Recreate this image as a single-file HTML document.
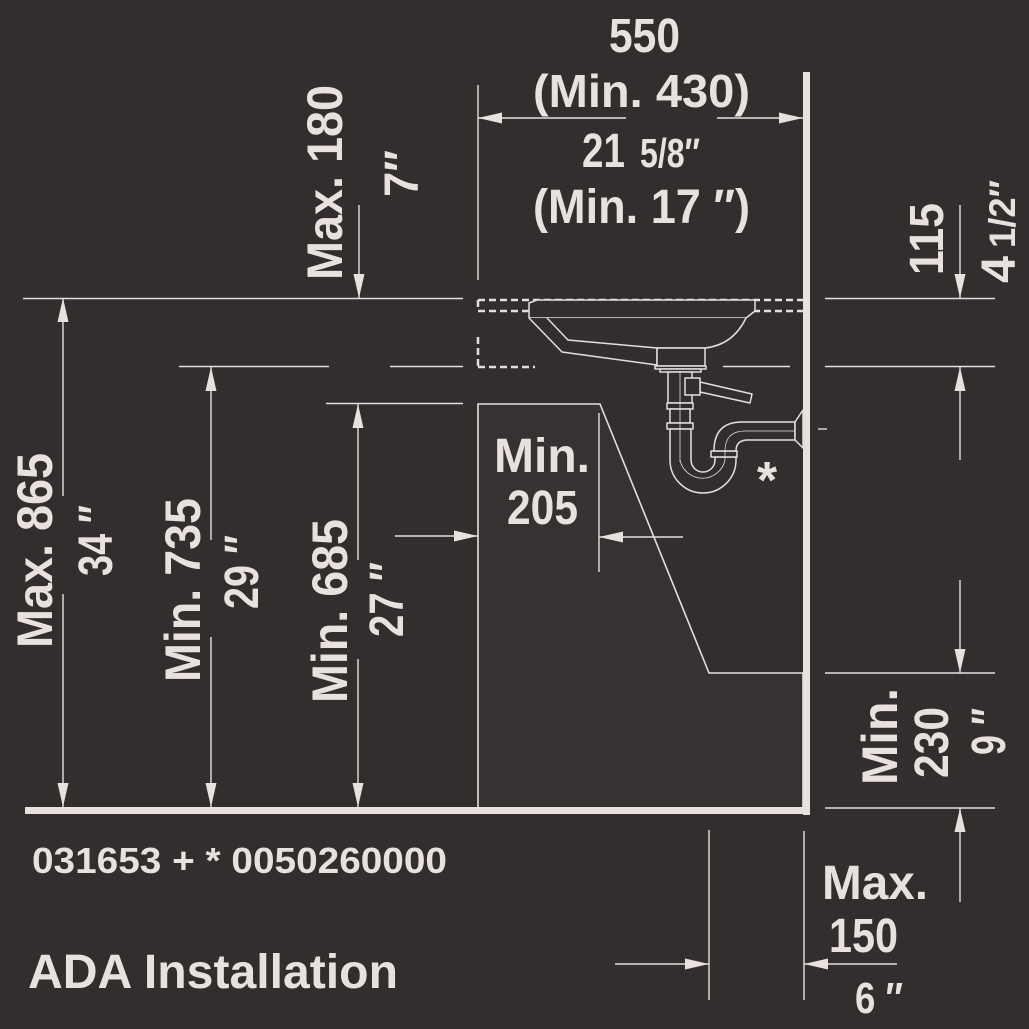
<!DOCTYPE html>
<html><head><meta charset="utf-8"><style>
html,body{margin:0;padding:0;background:#312e2d;}
svg{display:block;}
text{font-family:"Liberation Sans Narrow","Liberation Sans",sans-serif;font-weight:bold;fill:#e8e1e0;}
</style></head><body>
<svg width="1029" height="1029" viewBox="0 0 1029 1029" xmlns="http://www.w3.org/2000/svg">
<rect width="1029" height="1029" fill="#312e2d"/>
<!-- cabinet -->
<polygon points="478,404 600,404 709,673 803,673 803,808 478,808" fill="#373232" stroke="#e6dede" stroke-width="1.6"/>
<line x1="599" y1="413" x2="599" y2="572" stroke="#e6dede" stroke-width="1.4"/>
<g stroke="#e6dede" stroke-width="1.4" fill="none">
<line x1="23" y1="298.5" x2="463" y2="298.5"/>
<line x1="825" y1="298.5" x2="995" y2="298.5"/>
<line x1="179" y1="366.5" x2="329" y2="366.5"/>
<line x1="390" y1="366.5" x2="463" y2="366.5"/>
<line x1="723" y1="366.5" x2="790" y2="366.5"/>
<line x1="825" y1="366.5" x2="995" y2="366.5"/>
<line x1="326" y1="403.5" x2="463" y2="403.5"/>
<line x1="825" y1="673" x2="995" y2="673"/>
<line x1="825" y1="808" x2="995" y2="808"/>
<line x1="478" y1="118" x2="626" y2="118"/>
<line x1="717" y1="118" x2="803" y2="118"/>
<line x1="395" y1="536" x2="478" y2="536"/>
<line x1="599" y1="537" x2="683" y2="537"/>
<line x1="615" y1="964" x2="709" y2="964"/>
<line x1="804" y1="964" x2="897" y2="964"/>
<line x1="818" y1="429" x2="827" y2="429"/>
<line x1="478" y1="85" x2="478" y2="280"/>
<line x1="359" y1="205" x2="359" y2="298"/>
<line x1="63" y1="298" x2="63" y2="496"/>
<line x1="63" y1="594" x2="63" y2="808"/>
<line x1="211" y1="367" x2="211" y2="540"/>
<line x1="211" y1="637" x2="211" y2="808"/>
<line x1="358" y1="404" x2="358" y2="560"/>
<line x1="358" y1="659" x2="358" y2="808"/>
<line x1="960" y1="205" x2="960" y2="298"/>
<line x1="960" y1="367" x2="960" y2="460"/>
<line x1="960" y1="580" x2="960" y2="673"/>
<line x1="960" y1="808" x2="960" y2="902"/>
<line x1="709" y1="830" x2="709" y2="1000"/>
<line x1="804" y1="831" x2="804" y2="1000"/>
</g>
<rect x="803" y="72" width="7" height="743" fill="#e8e1e0"/>
<rect x="25" y="807" width="785" height="7" fill="#e8e1e0"/>
<g fill="#e8e1e0">
<polygon points="63,298 57.5,322 68.5,322"/>
<polygon points="211,367 205.5,391 216.5,391"/>
<polygon points="358,404 352.5,428 363.5,428"/>
<polygon points="960,367 954.5,391 965.5,391"/>
<polygon points="960,808 954.5,832 965.5,832"/>
<polygon points="63,807 57.5,783 68.5,783"/>
<polygon points="211,807 205.5,783 216.5,783"/>
<polygon points="358,807 352.5,783 363.5,783"/>
<polygon points="359,298 353.5,274 364.5,274"/>
<polygon points="960,298 954.5,274 965.5,274"/>
<polygon points="960,673 954.5,649 965.5,649"/>
<polygon points="803,118 779,112.5 779,123.5"/>
<polygon points="478,536 454,530.5 454,541.5"/>
<polygon points="709,964 685,958.5 685,969.5"/>
<polygon points="478,118 502,112.5 502,123.5"/>
<polygon points="599,537 623,531.5 623,542.5"/>
<polygon points="804,964 828,958.5 828,969.5"/>
</g>
<g stroke="#e6dede" stroke-width="2.5" fill="none" stroke-dasharray="7 4">
<line x1="478" y1="300" x2="803" y2="300"/>
<line x1="478" y1="311" x2="803" y2="311"/>
<line x1="478" y1="300" x2="478" y2="311"/>
<line x1="478" y1="337" x2="478" y2="367"/>
<line x1="478" y1="367" x2="535" y2="367"/>
</g>
<g stroke="#e6dede" stroke-width="1.5" fill="#312e2d" stroke-linejoin="round">
<path d="M537,300 L755,300 L755,311 L746,318 L529,318 L529,303 Z"/>
<path d="M529,318 L562,352 L657,365 L657,348 L705,348 Q733,345 746,318" fill="#312e2d"/>
<path d="M547,318 L568,340 L657,348" fill="none"/>
<rect x="657" y="348" width="48" height="18"/>
<rect x="655" y="366" width="51" height="3"/>
<rect x="660" y="369" width="41" height="3"/>
<rect x="668" y="372" width="24" height="31"/>
<path d="M700,382 L752,394 L750,403 L700,392 Z"/>
<rect x="685" y="378" width="15" height="17"/>
<rect x="667" y="403" width="26" height="6"/>
<rect x="670" y="409" width="20" height="14"/>
<rect x="667" y="423" width="26" height="6"/>
<path d="M670,429 L670,460 A33,33 0 0 0 736,460 L736,457 L715,457 L715,460 A12,12 0 0 1 691,460 L691,429 Z"/>
<rect x="711" y="451" width="26" height="6"/>
<path d="M714,451 Q714,422 742,422 L795,422 L795,440 L748,440 Q736,440 736,451 Z"/>
<path d="M795,422 L803,410 L803,448 L795,440 Z"/>
</g>
<g stroke="#e6dede" stroke-width="0.8" fill="none">
<line x1="680" y1="372" x2="680" y2="462"/>
<path d="M680,460 A23,23 0 0 0 725,460 L725,451 Q725,431 745,431 L795,431"/>
</g>
<text x="609" y="52" font-size="48" textLength="71" lengthAdjust="spacingAndGlyphs">550</text>
<text x="533" y="107" font-size="46" textLength="217" lengthAdjust="spacingAndGlyphs">(Min. 430)</text>
<text x="582" y="167" font-size="48" textLength="43" lengthAdjust="spacingAndGlyphs">21</text>
<text x="640" y="167" font-size="41" textLength="60" lengthAdjust="spacingAndGlyphs">5/8″</text>
<text x="533" y="223" font-size="48" textLength="217" lengthAdjust="spacingAndGlyphs">(Min. 17 ″)</text>

<text transform="translate(342,280) rotate(-90)" font-size="50" textLength="195" lengthAdjust="spacingAndGlyphs">Max. 180</text>
<text transform="translate(418,197) rotate(-90)" font-size="48" textLength="47" lengthAdjust="spacingAndGlyphs">7″</text>
<text transform="translate(52,648) rotate(-90)" font-size="50" textLength="195" lengthAdjust="spacingAndGlyphs">Max. 865</text>
<text transform="translate(112,576) rotate(-90)" font-size="48" textLength="71" lengthAdjust="spacingAndGlyphs">34 ″</text>
<text transform="translate(200,682) rotate(-90)" font-size="50" textLength="184" lengthAdjust="spacingAndGlyphs">Min. 735</text>
<text transform="translate(258,609) rotate(-90)" font-size="48" textLength="74" lengthAdjust="spacingAndGlyphs">29 ″</text>
<text transform="translate(347,703) rotate(-90)" font-size="50" textLength="184" lengthAdjust="spacingAndGlyphs">Min. 685</text>
<text transform="translate(403,637) rotate(-90)" font-size="48" textLength="75" lengthAdjust="spacingAndGlyphs">27 ″</text>

<text transform="translate(943,275) rotate(-90)" font-size="48" textLength="72" lengthAdjust="spacingAndGlyphs">115</text>
<text transform="translate(1015,283) rotate(-90)" font-size="48" textLength="27" lengthAdjust="spacingAndGlyphs">4</text>
<text transform="translate(1015,248) rotate(-90)" font-size="37" textLength="68" lengthAdjust="spacingAndGlyphs">1/2″</text>

<text transform="translate(897,785) rotate(-90)" font-size="50" textLength="97" lengthAdjust="spacingAndGlyphs">Min.</text>
<text transform="translate(948,778) rotate(-90)" font-size="48" textLength="71" lengthAdjust="spacingAndGlyphs">230</text>
<text transform="translate(1005,755) rotate(-90)" font-size="48" textLength="47" lengthAdjust="spacingAndGlyphs">9 ″</text>

<text x="494" y="472" font-size="48" textLength="96" lengthAdjust="spacingAndGlyphs">Min.</text>
<text x="507" y="524" font-size="48" textLength="71" lengthAdjust="spacingAndGlyphs">205</text>

<text x="767" y="498" font-size="52" text-anchor="middle">*</text>

<text x="822" y="899" font-size="48" textLength="106" lengthAdjust="spacingAndGlyphs">Max.</text>
<text x="829" y="952" font-size="48" textLength="69" lengthAdjust="spacingAndGlyphs">150</text>
<text x="855" y="1013" font-size="44" textLength="48" lengthAdjust="spacingAndGlyphs">6 ″</text>

<text x="32" y="873" font-size="36" textLength="415" lengthAdjust="spacingAndGlyphs">031653 + * 0050260000</text>
<text x="28" y="988" font-size="48" textLength="370" lengthAdjust="spacingAndGlyphs">ADA Installation</text>
</svg>
</body></html>
